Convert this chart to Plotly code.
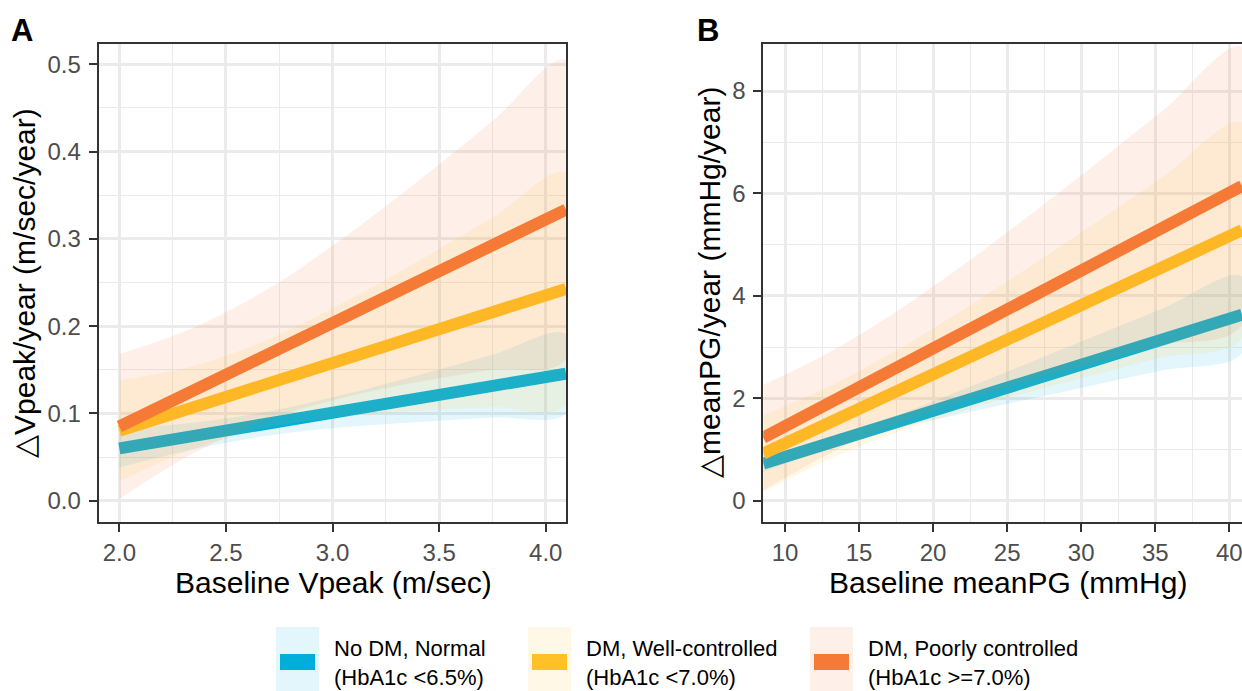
import plotly.graph_objects as go

W, H = 1242, 691

# ---------------- data ----------------
groups = ["No DM, Normal", "DM, Well-controlled", "DM, Poorly controlled"]
group_sub = ["(HbA1c <6.5%)", "(HbA1c <7.0%)", "(HbA1c >=7.0%)"]
colors = ["#00AEDB", "#FFC125", "#F47A35"]

# Panel A: Baseline Vpeak vs change in Vpeak per year
a_x = [2.0, 2.35, 2.7, 3.05, 3.4, 3.75, 4.095]
a_fit_blue = [0.060, 0.0742, 0.0885, 0.1027, 0.1170, 0.1312, 0.1455]
a_lo_blue = [0.038, 0.0589, 0.0747, 0.0840, 0.0902, 0.0953, 0.1002]
a_hi_blue = [0.082, 0.0895, 0.1023, 0.1214, 0.1438, 0.1671, 0.1908]
a_fit_yellow = [0.080, 0.1071, 0.1343, 0.1614, 0.1886, 0.2157, 0.2427]
a_lo_yellow = [0.022, 0.0595, 0.0836, 0.0961, 0.1029, 0.1070, 0.1100]
a_hi_yellow = [0.138, 0.1547, 0.1850, 0.2267, 0.2743, 0.3244, 0.3754]
a_fit_orange = [0.085, 0.1265, 0.1680, 0.2095, 0.2510, 0.2925, 0.3335]
a_lo_orange = [0.002, 0.0545, 0.0930, 0.1180, 0.1360, 0.1500, 0.1620]
a_hi_orange = [0.168, 0.1985, 0.2430, 0.3010, 0.3660, 0.4350, 0.5050]

# Panel B: Baseline meanPG vs change in meanPG per year
b_x = [8.535, 13, 17.5, 22, 26.5, 31, 35.5, 40.86]
b_fit_blue = [0.725, 1.126, 1.531, 1.936, 2.340, 2.745, 3.149, 3.631]
b_lo_blue = [0.555, 1.045, 1.407, 1.701, 1.984, 2.266, 2.546, 2.881]
b_hi_blue = [0.895, 1.207, 1.655, 2.171, 2.696, 3.224, 3.752, 4.381]
b_fit_yellow = [0.920, 1.523, 2.130, 2.738, 3.345, 3.953, 4.560, 5.284]
b_lo_yellow = [0.170, 0.808, 1.325, 1.751, 2.124, 2.470, 2.801, 3.184]
b_hi_yellow = [1.670, 2.238, 2.935, 3.725, 4.566, 5.436, 6.319, 7.384]
b_fit_orange = [1.230, 1.909, 2.593, 3.277, 3.961, 4.645, 5.329, 6.144]
b_lo_orange = [0.200, 0.921, 1.497, 1.958, 2.352, 2.709, 3.044, 3.427]
b_hi_orange = [2.260, 2.897, 3.689, 4.596, 5.570, 6.581, 7.614, 8.861]

a_xticks = [2.0, 2.5, 3.0, 3.5, 4.0]
a_yticks = [0.0, 0.1, 0.2, 0.3, 0.4, 0.5]
b_xticks = [10, 15, 20, 25, 30, 35, 40]
b_yticks = [0, 2, 4, 6, 8]

a_xtitle = "Baseline Vpeak (m/sec)"
a_ytitle = "\u25b3Vpeak/year (m/sec/year)"
b_xtitle = "Baseline meanPG (mmHg)"
b_ytitle = "\u25b3meanPG/year (mmHg/year)"

# ---------------- helpers ----------------
FONT = "Liberation Sans, Arial, sans-serif"
ALPHA = 0.11


def rgba(hexc, a):
    h = hexc.lstrip("#")
    r, g, b = int(h[0:2], 16), int(h[2:4], 16), int(h[4:6], 16)
    return f"rgba({r},{g},{b},{a})"


def px(x):
    return x / W


def py(y):
    return 1 - y / H


fig = go.Figure()

panels = [
    ("x", "y", a_x,
     [(a_fit_blue, a_lo_blue, a_hi_blue), (a_fit_yellow, a_lo_yellow, a_hi_yellow),
      (a_fit_orange, a_lo_orange, a_hi_orange)]),
    ("x2", "y2", b_x,
     [(b_fit_blue, b_lo_blue, b_hi_blue), (b_fit_yellow, b_lo_yellow, b_hi_yellow),
      (b_fit_orange, b_lo_orange, b_hi_orange)]),
]

for xa, ya, xs, series in panels:
    for i, (fit, lo, hi) in enumerate(series):
        fig.add_trace(go.Scatter(
            x=list(xs) + list(xs)[::-1], y=list(hi) + list(lo)[::-1],
            fill="toself", fillcolor=rgba(colors[i], ALPHA),
            line=dict(width=0), mode="lines", hoverinfo="skip",
            showlegend=False, xaxis=xa, yaxis=ya, line_shape="spline"))
        fig.add_trace(go.Scatter(
            x=xs, y=fit, mode="lines", line=dict(color=colors[i], width=12),
            name=groups[i], showlegend=False, xaxis=xa, yaxis=ya))

# plot areas (pixels)
A_L, A_R, TOP, BOT = 98.7, 566.0, 44.3, 521.7
B_L = 763.3

grid = "#EBEBEB"
common = dict(
    showgrid=True, gridcolor=grid, gridwidth=2.6, zeroline=False,
    ticks="outside", ticklen=8, tickwidth=2.4, tickcolor="#333333",
    showline=True, linecolor="#333333", linewidth=2,
    tickfont=dict(family=FONT, size=24, color="#4D4D4D"),
    ticklabeloverflow="allow",
)

fig.update_layout(
    width=W, height=H, margin=dict(l=0, r=0, t=0, b=0),
    paper_bgcolor="white", plot_bgcolor="white", showlegend=False,
    xaxis=dict(domain=[px(A_L), px(A_R)], range=[1.903, 4.095], anchor="y",
               tickvals=a_xticks, ticktext=[f"{v:.1f}" for v in a_xticks], mirror=True,
               ticklabelstandoff=0,
               minor=dict(tickvals=[2.25, 2.75, 3.25, 3.75], showgrid=True,
                          gridcolor=grid, gridwidth=1.3, ticks=""), **common),
    yaxis=dict(domain=[py(BOT), py(TOP)], range=[-0.0241, 0.5229], anchor="x",
               tickvals=a_yticks, ticktext=[f"{v:.1f}" for v in a_yticks], mirror=True,
               ticklabelstandoff=3,
               minor=dict(tickvals=[0.05, 0.15, 0.25, 0.35, 0.45], showgrid=True,
                          gridcolor=grid, gridwidth=1.3, ticks=""), **common),
    xaxis2=dict(domain=[px(B_L), 1.0], range=[8.535, 40.86], anchor="y2",
                tickvals=b_xticks, ticktext=[str(v) for v in b_xticks], mirror=True,
                ticklabelstandoff=0,
                minor=dict(tickvals=[12.5, 17.5, 22.5, 27.5, 32.5, 37.5], showgrid=True,
                           gridcolor=grid, gridwidth=1.3, ticks=""), **common),
    yaxis2=dict(domain=[py(BOT), py(TOP)], range=[-0.41, 8.912], anchor="x2",
                tickvals=b_yticks, ticktext=[str(v) for v in b_yticks], mirror=False,
                ticklabelstandoff=3,
                minor=dict(tickvals=[1, 3, 5, 7], showgrid=True,
                           gridcolor=grid, gridwidth=1.3, ticks=""), **common),
)

ann = []
title_font = dict(family=FONT, size=30, color="black")
ann.append(dict(text=a_xtitle, x=px(333), y=py(582), showarrow=False, font=title_font,
                xref="paper", yref="paper", xanchor="center", yanchor="middle"))
ann.append(dict(text=b_xtitle, x=px(1008), y=py(582), showarrow=False, font=title_font,
                xref="paper", yref="paper", xanchor="center", yanchor="middle"))
ann.append(dict(text=a_ytitle, x=px(24), y=py(283), showarrow=False, font=title_font,
                textangle=-90, xref="paper", yref="paper", xanchor="center", yanchor="middle"))
ann.append(dict(text=b_ytitle, x=px(709), y=py(283), showarrow=False, font=title_font,
                textangle=-90, xref="paper", yref="paper", xanchor="center", yanchor="middle"))
letter_font = dict(family=FONT, size=31, color="black")
ann.append(dict(text="<b>A</b>", x=px(22), y=py(30), showarrow=False, font=letter_font,
                xref="paper", yref="paper", xanchor="center", yanchor="middle"))
ann.append(dict(text="<b>B</b>", x=px(708), y=py(30), showarrow=False, font=letter_font,
                xref="paper", yref="paper", xanchor="center", yanchor="middle"))

# manual legend (ggplot-style keys)
shapes = []
key_left = [276, 528, 810]
for i in range(3):
    kl = key_left[i]
    shapes.append(dict(type="rect", xref="paper", yref="paper",
                       x0=px(kl), x1=px(kl + 43), y0=py(691), y1=py(627),
                       fillcolor=rgba(colors[i], ALPHA), line=dict(width=0), layer="above"))
    shapes.append(dict(type="rect", xref="paper", yref="paper",
                       x0=px(kl + 4), x1=px(kl + 39), y0=py(670), y1=py(654),
                       fillcolor=colors[i], line=dict(width=0), layer="above"))
    ann.append(dict(text=groups[i] + "<br>" + group_sub[i], x=px(kl + 56), y=py(663),
                    showarrow=False, align="left",
                    font=dict(family=FONT, size=22, color="black"),
                    xref="paper", yref="paper", xanchor="left", yanchor="middle"))

fig.update_layout(annotations=ann, shapes=shapes)
fig.write_html(
    "out.html",
    config={"displayModeBar": False},
    post_script="document.body.style.margin='0';document.body.style.overflow='hidden';",
)
